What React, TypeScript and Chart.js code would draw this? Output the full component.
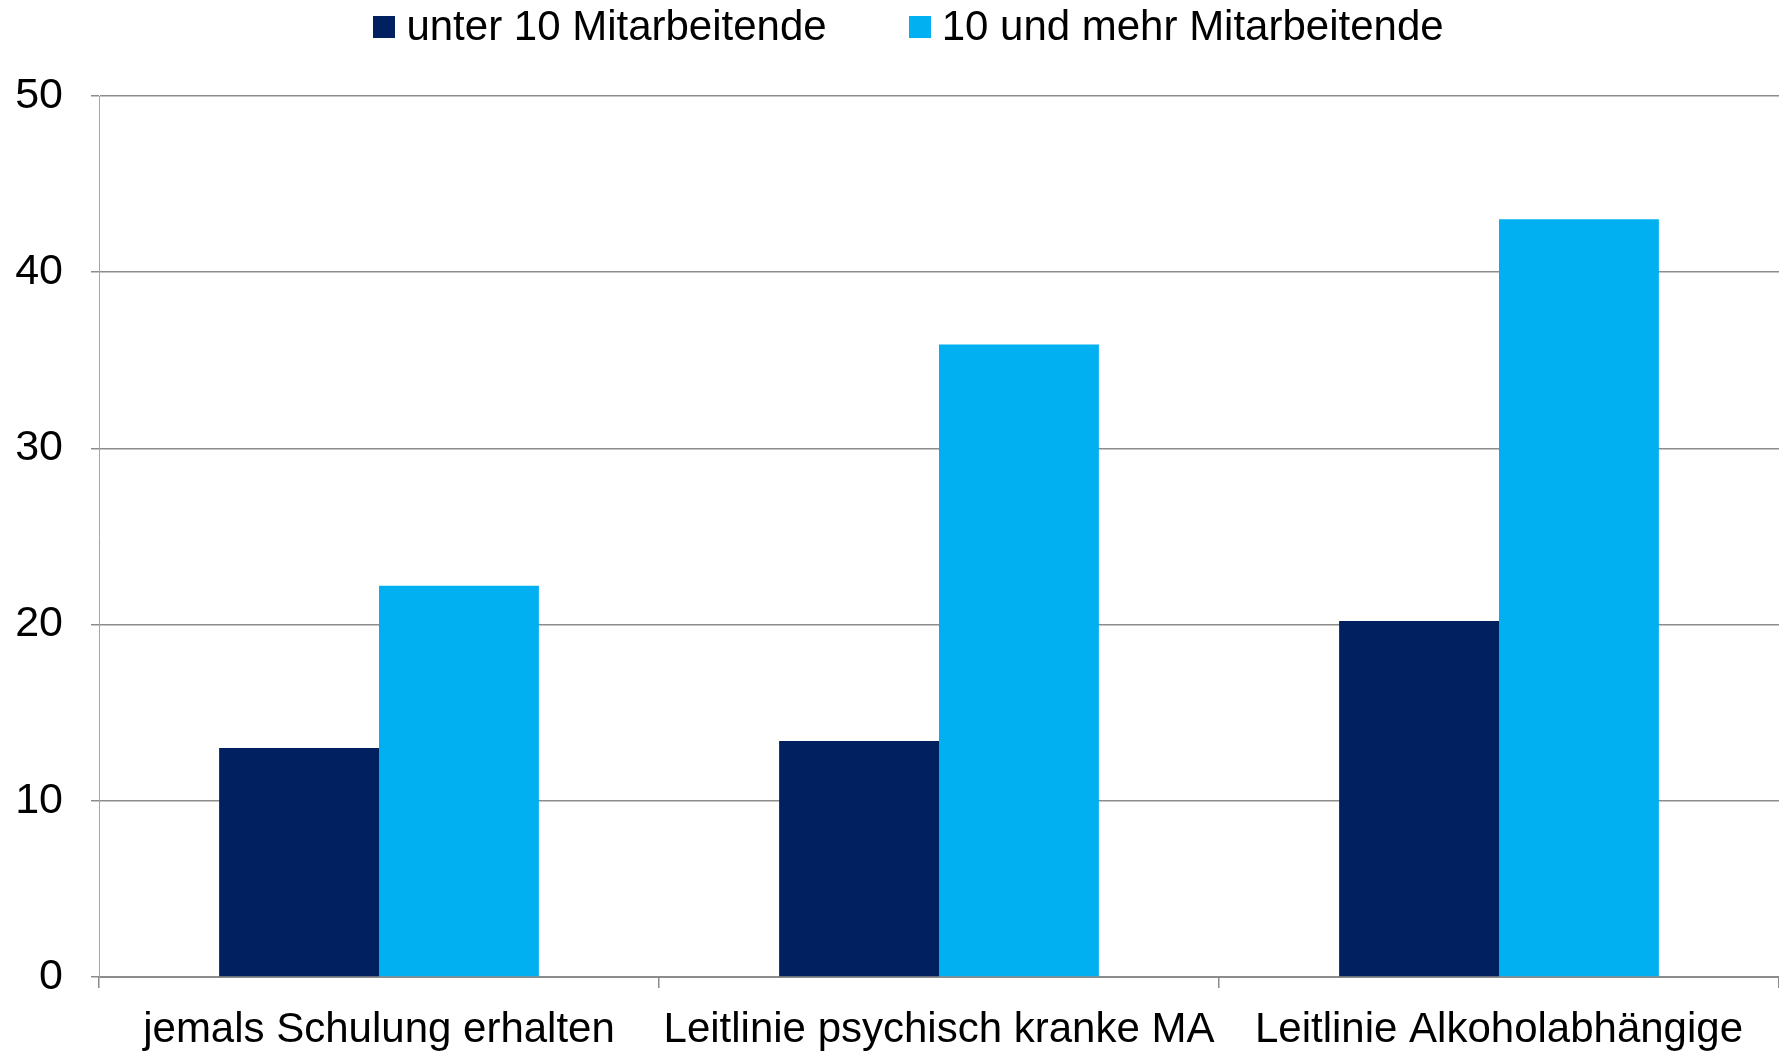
import React, { useEffect, useRef } from "react";
import { Chart, registerables } from "chart.js";

Chart.register(...registerables);

const categories = [
  "jemals Schulung erhalten",
  "Leitlinie psychisch kranke MA",
  "Leitlinie Alkoholabhängige",
];
const seriesNames = ["unter 10 Mitarbeitende", "10 und mehr Mitarbeitende"];
const under10 = [13.0, 13.4, 20.2];
const over10 = [22.2, 35.9, 43.0];
const yTickMin = 0;
const yTickMax = 50;
const yTickStep = 10;
const seriesColors = ["#002060", "#00B0F0"];

const FONT_FAMILY = '"Liberation Sans", Arial, Helvetica, sans-serif';
const FONT_SIZE = 42;

const legendPlugin = {
  id: "customLegend",
  afterDraw(chart: any) {
    const ctx = chart.ctx;
    ctx.save();
    ctx.font = `${FONT_SIZE}px ${FONT_FAMILY}`;
    ctx.textBaseline = "middle";
    ctx.textAlign = "left";
    const box = 22;
    const gapText = 11;
    const gapItem = 82;
    const widths = chart.data.datasets.map((d: any) => ctx.measureText(d.label).width);
    const total =
      widths.reduce((s: number, w: number) => s + box + gapText + w, 0) +
      gapItem * (widths.length - 1);
    let x = chart.width / 2 + 19 - total / 2;
    const yc = 27;
    chart.data.datasets.forEach((d: any, i: number) => {
      ctx.fillStyle = d.backgroundColor;
      ctx.fillRect(Math.round(x), yc - box / 2, box, box);
      ctx.fillStyle = "#000";
      ctx.fillText(d.label, x + box + gapText, yc + 1);
      x += box + gapText + widths[i] + gapItem;
    });
    ctx.restore();
  },
};

export default function App() {
  const ref = useRef<HTMLCanvasElement | null>(null);

  useEffect(() => {
    if (!ref.current) return;
    const chart = new Chart(ref.current, {
      type: "bar",
      data: {
        labels: categories,
        datasets: [
          {
            label: seriesNames[0],
            data: under10,
            backgroundColor: seriesColors[0],
            categoryPercentage: 0.571,
            barPercentage: 1.0,
          },
          {
            label: seriesNames[1],
            data: over10,
            backgroundColor: seriesColors[1],
            categoryPercentage: 0.571,
            barPercentage: 1.0,
          },
        ],
      },
      options: {
        responsive: false,
        animation: false,
        layout: { padding: { top: 96, left: 0, right: -3, bottom: 0 } },
        plugins: {
          legend: { display: false },
          tooltip: { enabled: false },
        },
        scales: {
          x: {
            grid: {
              drawOnChartArea: false,
              drawTicks: true,
              tickLength: 11,
              color: "#8c8c8c",
              lineWidth: 1.5,
              offset: true,
            },
            border: { color: "#8c8c8c", width: 2 },
            ticks: {
              color: "#000",
              font: { size: FONT_SIZE, family: FONT_FAMILY },
              padding: 17,
              maxRotation: 0,
              autoSkip: false,
            },
            afterFit: (s: any) => {
              s.height = 76;
            },
          },
          y: {
            min: yTickMin,
            max: yTickMax,
            ticks: {
              stepSize: yTickStep,
              color: "#000",
              font: { size: 43, family: FONT_FAMILY },
              padding: 28,
            },
            grid: {
              color: "#8c8c8c",
              lineWidth: 1.5,
              tickLength: 8,
              drawTicks: true,
            },
            border: { color: "#a6a6a6", width: 1 },
            afterFit: (s: any) => {
              s.width = 99;
            },
          },
        },
      },
      plugins: [legendPlugin],
    });
    return () => chart.destroy();
  }, []);

  return (
    <div style={{ position: "absolute", left: 0, top: 0, width: 1779, height: 1053, background: "#fff", overflow: "hidden" }}>
      <canvas ref={ref} width={1779} height={1053} style={{ display: "block" }} />
    </div>
  );
}
